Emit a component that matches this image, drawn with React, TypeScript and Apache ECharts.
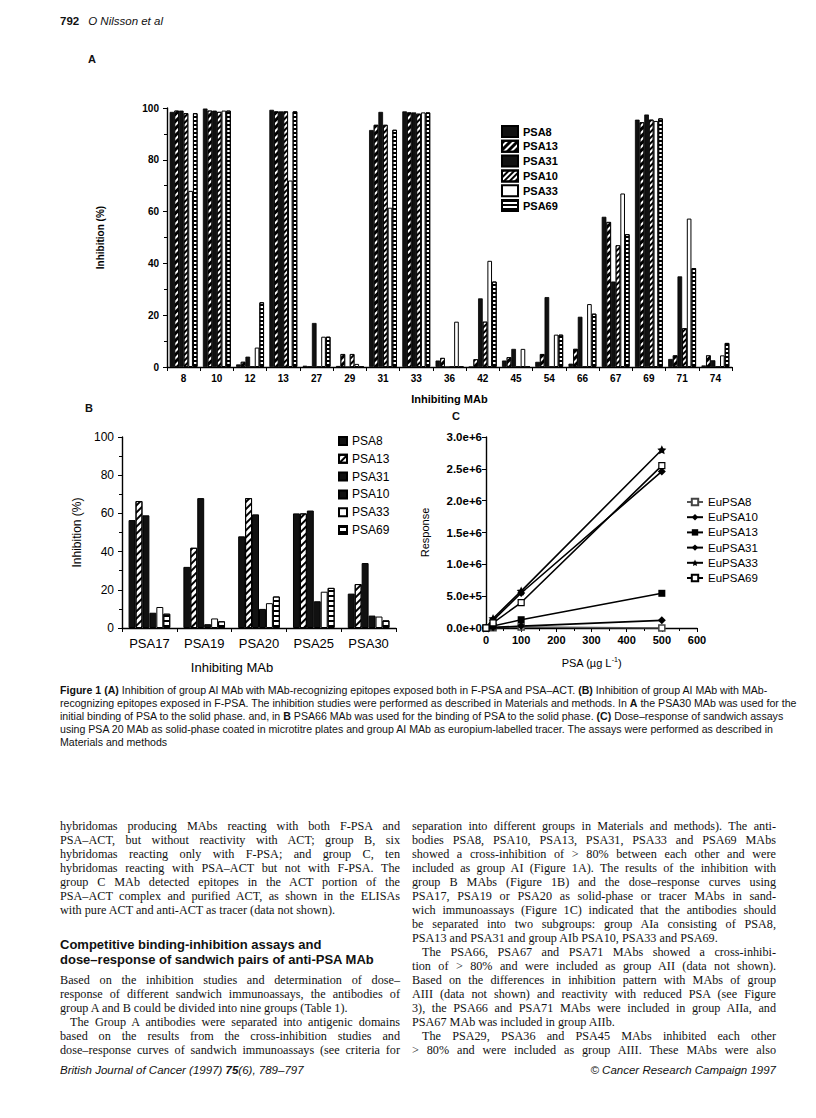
import React, { useEffect, useRef } from 'react';
import * as echarts from 'echarts';

// ---------- Panel A data ----------
const catsA = ['8', '10', '12', '13', '27', '29', '31', '33', '36', '42', '45', '54', '66', '67', '69', '71', '74'];
const namesA = ['PSA8', 'PSA13', 'PSA31', 'PSA10', 'PSA33', 'PSA69'];
const aPSA8 = [98.5, 99.8, 1, 99.3, 0.5, 0.4, 91.5, 98.7, 2.5, 0, 2.5, 2, 1.3, 58, 95.5, 3.1, 0.6];
const aPSA13 = [99, 99, 2, 98.7, 0, 5, 93.5, 98.3, 3.5, 3, 3.8, 5, 7, 56, 94.5, 4.5, 4.5];
const aPSA31 = [99, 99, 4, 98.7, 17, 0, 98.5, 98.3, 0, 26.5, 7, 27, 19.4, 33, 97.5, 35, 2.6];
const aPSA10 = [98, 98.5, 0, 98.7, 0, 5, 93.5, 97.8, 0, 17.5, 0, 0, 0, 47, 95.5, 15, 0];
const aPSA33 = [68, 99, 7.5, 72, 11.7, 1.2, 61.5, 98.3, 17.5, 41, 7, 12.5, 24.3, 67, 95, 57.3, 4.5];
const aPSA69 = [98, 99, 25, 98.7, 11.7, 0, 91.6, 98.3, 0, 33, 0, 12.5, 20.6, 51.3, 96, 38.2, 9.3];

// ---------- Panel B data ----------
const catsB = ['PSA17', 'PSA19', 'PSA20', 'PSA25', 'PSA30'];
const bPSA8 = [56.5, 32, 48, 60, 18];
const bPSA13 = [66.5, 42, 68, 60, 23];
const bPSA31 = [59, 68, 59.5, 61.5, 34];
const bPSA10 = [8, 2, 10, 14, 6.5];
const bPSA33 = [11, 5, 13, 19, 6];
const bPSA69 = [7.5, 3.5, 16.5, 21, 4];

// ---------- Panel C data ----------
const xC = [0, 20, 100, 500];
const cEuPSA8 = [0, 5000, 15000, 0];
const cEuPSA10 = [0, 120000, 550000, 2460000];
const cEuPSA13 = [0, 30000, 130000, 545000];
const cEuPSA31 = [0, 10000, 30000, 120000];
const cEuPSA33 = [0, 150000, 580000, 2800000];
const cEuPSA69 = [0, 80000, 400000, 2550000];

const yTicksA = [0, 20, 40, 60, 80, 100];

const SANS = '"Liberation Sans", Arial, Helvetica, sans-serif';
const SERIF = '"Liberation Serif", "Times New Roman", serif';

const diag = (w: number, g: number, rot: number) => ({
  symbol: 'rect', symbolSize: 1, color: '#000', backgroundColor: '#fff',
  dashArrayX: [1, 0], dashArrayY: [w, g], rotation: rot,
});

function barsA() {
  const vals = [aPSA8, aPSA13, aPSA31, aPSA10, aPSA33, aPSA69];
  const styles: any[] = [
    { color: '#111', borderColor: '#000', borderWidth: 0.8 },
    { color: '#fff', borderColor: '#000', borderWidth: 0.8, decal: diag(2.5, 1.5, -Math.PI / 4) },
    { color: '#111', borderColor: '#000', borderWidth: 0.8 },
    { color: '#fff', borderColor: '#000', borderWidth: 0.8, decal: diag(1.2, 1.2, -Math.PI / 4) },
    { color: '#fff', borderColor: '#000', borderWidth: 1 },
    { color: '#fff', borderColor: '#000', borderWidth: 1, decal: diag(1.5, 1.5, 0) },
  ];
  return namesA.map((n, i) => ({
    name: n, type: 'bar', data: vals[i], barGap: '0%', barCategoryGap: '16%',
    itemStyle: styles[i],
  }));
}

function barsB() {
  const vals = [bPSA8, bPSA13, bPSA31, bPSA10, bPSA33, bPSA69];
  const styles: any[] = [
    { color: '#111', borderColor: '#000', borderWidth: 1 },
    { color: '#fff', borderColor: '#000', borderWidth: 1, decal: diag(2, 3, -Math.PI / 4) },
    { color: '#111', borderColor: '#000', borderWidth: 1 },
    { color: '#111', borderColor: '#000', borderWidth: 1 },
    { color: '#fff', borderColor: '#000', borderWidth: 1 },
    { color: '#fff', borderColor: '#000', borderWidth: 1, decal: diag(2, 2.5, 0) },
  ];
  return namesA.map((n, i) => ({
    name: n, type: 'bar', data: vals[i], barGap: '0%', barCategoryGap: '24%',
    itemStyle: styles[i],
  }));
}

const STAR = 'path://M0,-10 L2.9,-4 L9.5,-3.1 L4.7,1.5 L5.9,8.1 L0,5 L-5.9,8.1 L-4.7,1.5 L-9.5,-3.1 L-2.9,-4 Z';

function linesC() {
  const defs: any[] = [
    ['EuPSA8', cEuPSA8, 'rect', 6, { color: '#fff', borderColor: '#444', borderWidth: 1.5 }, '#555'],
    ['EuPSA10', cEuPSA10, 'diamond', 8, { color: '#000' }, '#000'],
    ['EuPSA13', cEuPSA13, 'rect', 7, { color: '#000' }, '#000'],
    ['EuPSA31', cEuPSA31, 'diamond', 8, { color: '#000' }, '#000'],
    ['EuPSA33', cEuPSA33, STAR, 9, { color: '#000' }, '#000'],
    ['EuPSA69', cEuPSA69, 'rect', 6, { color: '#fff', borderColor: '#000', borderWidth: 1.2 }, '#000'],
  ];
  return defs.map(([n, v, sym, size, is, lc]) => ({
    name: n, type: 'line', data: xC.map((x, i) => [x, v[i]]),
    symbol: sym, symbolSize: size, showSymbol: true,
    itemStyle: is, lineStyle: { color: lc, width: 1.6 },
  }));
}

const axisBlack = { lineStyle: { color: '#000', width: 1.4 } };

export default function App() {
  const refA = useRef<HTMLDivElement>(null);
  const refB = useRef<HTMLDivElement>(null);
  const refC = useRef<HTMLDivElement>(null);

  useEffect(() => {
    document.body.style.margin = '0';
    const a = echarts.init(refA.current!, null, { renderer: 'svg' });
    const b = echarts.init(refB.current!, null, { renderer: 'svg' });
    const c = echarts.init(refC.current!, null, { renderer: 'svg' });

    a.setOption({
      animation: false,
      textStyle: { fontFamily: SANS },
      grid: { left: 167, right: 84, top: 68, bottom: 45 },
      legend: {
        orient: 'vertical', left: 496, top: 80, itemWidth: 16, itemHeight: 11, itemGap: 1.8,
        icon: 'rect', data: namesA,
        textStyle: { fontSize: 11, fontWeight: 'bold', color: '#000', fontFamily: SANS },
      },
      xAxis: {
        type: 'category', data: catsA,
        name: 'Inhibiting MAb', nameLocation: 'middle', nameGap: 26,
        nameTextStyle: { fontSize: 11, fontWeight: 'bold', color: '#000', fontFamily: SANS },
        axisLine: axisBlack,
        axisTick: { show: true, length: 4, lineStyle: { color: '#000' } },
        axisLabel: { color: '#000', fontSize: 10, fontWeight: 'bold', margin: 6, fontFamily: SANS },
      },
      yAxis: {
        type: 'value', min: yTicksA[0], max: yTicksA[yTicksA.length - 1], interval: 20,
        name: 'Inhibition (%)', nameLocation: 'middle', nameGap: 62,
        nameTextStyle: { fontSize: 10, fontWeight: 'bold', color: '#000', fontFamily: SANS },
        axisLine: { show: true, ...axisBlack },
        axisTick: { show: true, length: 4, lineStyle: { color: '#000' } },
        minorTick: { show: true, splitNumber: 2, length: 3, lineStyle: { color: '#000' } },
        splitLine: { show: false },
        axisLabel: { color: '#000', fontSize: 10, fontWeight: 'bold', margin: 8, fontFamily: SANS },
      },
      series: barsA(),
    });

    b.setOption({
      animation: false,
      textStyle: { fontFamily: SANS },
      grid: { left: 122, right: 24, top: 37, bottom: 57 },
      legend: {
        orient: 'vertical', left: 333, top: 30, itemWidth: 8, itemHeight: 8, itemGap: 5.8,
        icon: 'rect', data: namesA,
        textStyle: { fontSize: 12, color: '#000', fontFamily: SANS },
      },
      graphic: [
        { type: 'text', x: 232, y: 267, style: { text: 'Inhibiting MAb', fontSize: 13, fill: '#000', fontFamily: SANS, align: 'center', verticalAlign: 'middle' } },
      ],
      xAxis: {
        type: 'category', data: catsB,
        axisLine: axisBlack,
        axisTick: { show: true, length: 4, lineStyle: { color: '#000' } },
        axisLabel: { color: '#000', fontSize: 13, margin: 9, fontFamily: SANS },
      },
      yAxis: {
        type: 'value', min: 0, max: 100, interval: 20,
        name: 'Inhibition (%)', nameLocation: 'middle', nameGap: 37,
        nameTextStyle: { fontSize: 12, color: '#000', fontFamily: SANS },
        axisLine: { show: true, ...axisBlack },
        axisTick: { show: true, length: 4, lineStyle: { color: '#000' } },
        minorTick: { show: true, splitNumber: 2, length: 3, lineStyle: { color: '#000' } },
        splitLine: { show: false },
        axisLabel: { color: '#000', fontSize: 12, margin: 8, fontFamily: SANS },
      },
      series: barsB(),
    });

    c.setOption({
      animation: false,
      textStyle: { fontFamily: SANS },
      grid: { left: 86, right: 119, top: 37, bottom: 57 },
      legend: {
        orient: 'vertical', left: 281, top: 91, itemWidth: 16, itemHeight: 8, itemGap: 3.2,
        data: ['EuPSA8', 'EuPSA10', 'EuPSA13', 'EuPSA31', 'EuPSA33', 'EuPSA69'],
        textStyle: { fontSize: 11.5, color: '#000', fontFamily: SANS },
      },
      xAxis: {
        type: 'value', min: 0, max: 600, interval: 100,
        name: 'PSA (µg L{s|-1})', nameLocation: 'middle', nameGap: 28,
        nameTextStyle: { fontSize: 11, color: '#000', fontFamily: SANS, rich: { s: { fontSize: 7, verticalAlign: 'top', padding: [0, 0, 6, 0] } } },
        axisLine: axisBlack,
        axisTick: { show: true, length: 4, lineStyle: { color: '#000' } },
        minorTick: { show: true, splitNumber: 2, length: 3, lineStyle: { color: '#000' } },
        splitLine: { show: false },
        axisLabel: { color: '#000', fontSize: 11, fontWeight: 'bold', margin: 6, fontFamily: SANS },
      },
      yAxis: {
        type: 'value', min: 0, max: 3000000, interval: 500000,
        name: 'Response', nameLocation: 'middle', nameGap: 56,
        nameTextStyle: { fontSize: 11, color: '#000', fontFamily: SANS },
        axisLine: { show: true, ...axisBlack },
        axisTick: { show: true, length: 4, lineStyle: { color: '#000' } },
        splitLine: { show: false },
        axisLabel: {
          color: '#000', fontSize: 11.5, fontWeight: 'bold', margin: 4, fontFamily: SANS,
          formatter: (v: number) => v.toExponential(1),
        },
      },
      series: linesC(),
    });

    return () => { a.dispose(); b.dispose(); c.dispose(); };
  }, []);

  const abs = (l: number, t: number, extra: any = {}) => ({ position: 'absolute' as const, left: l, top: t, ...extra });

  const leftLines: [string, boolean, boolean][] = [
    ['hybridomas producing MAbs reacting with both F-PSA and', true, false],
    ['PSA–ACT, but without reactivity with ACT; group B, six', true, false],
    ['hybridomas reacting only with F-PSA; and group C, ten', true, false],
    ['hybridomas reacting with PSA–ACT but not with F-PSA. The', true, false],
    ['group C MAb detected epitopes in the ACT portion of the', true, false],
    ['PSA–ACT complex and purified ACT, as shown in the ELISAs', true, false],
    ['with pure ACT and anti-ACT as tracer (data not shown).', false, false],
  ];
  const leftLines2: [string, boolean, boolean][] = [
    ['Based on the inhibition studies and determination of dose–', true, false],
    ['response of different sandwich immunoassays, the antibodies of', true, false],
    ['group A and B could be divided into nine groups (Table 1).', false, false],
    ['The Group A antibodies were separated into antigenic domains', true, true],
    ['based on the results from the cross-inhibition studies and', true, false],
    ['dose–response curves of sandwich immunoassays (see criteria for', true, false],
  ];
  const rightLines: [string, boolean, boolean][] = [
    ['separation into different groups in Materials and methods). The anti-', true, false],
    ['bodies PSA8, PSA10, PSA13, PSA31, PSA33 and PSA69 MAbs', true, false],
    ['showed a cross-inhibition of > 80% between each other and were', true, false],
    ['included as group AI (Figure 1A). The results of the inhibition with', true, false],
    ['group B MAbs (Figure 1B) and the dose–response curves using', true, false],
    ['PSA17, PSA19 or PSA20 as solid-phase or tracer MAbs in sand-', true, false],
    ['wich immunoassays (Figure 1C) indicated that the antibodies should', true, false],
    ['be separated into two subgroups: group AIa consisting of PSA8,', true, false],
    ['PSA13 and PSA31 and group AIb PSA10, PSA33 and PSA69.', false, false],
    ['The PSA66, PSA67 and PSA71 MAbs showed a cross-inhibi-', true, true],
    ['tion of > 80% and were included as group AII (data not shown).', true, false],
    ['Based on the differences in inhibition pattern with MAbs of group', true, false],
    ['AIII (data not shown) and reactivity with reduced PSA (see Figure', true, false],
    ['3), the PSA66 and PSA71 MAbs were included in group AIIa, and', true, false],
    ['PSA67 MAb was included in group AIIb.', false, false],
    ['The PSA29, PSA36 and PSA45 MAbs inhibited each other', true, true],
    ['> 80% and were included as group AIII. These MAbs were also', true, false],
  ];

  const LH = 14;
  const renderLines = (lines: [string, boolean, boolean][]) =>
    lines.map(([t, j, ind], i) => (
      <div key={i} style={{
        textAlign: j ? 'justify' : 'left', textAlignLast: j ? 'justify' : 'left',
        textIndent: ind ? 10 : 0, height: LH, lineHeight: LH + 'px', whiteSpace: 'normal',
      }}>{t}</div>
    ));

  const capStyle = { fontFamily: SANS, fontSize: 10.6, lineHeight: '12.9px', color: '#111', whiteSpace: 'nowrap' as const };
  const bodyStyle = { fontFamily: SERIF, fontSize: 12.2, color: '#111' };

  return (
    <div style={{ position: 'absolute', left: 0, top: 0, width: 816, height: 1118, background: '#fff', color: '#111', overflow: 'hidden' }}>
      <div style={abs(60, 15, { fontFamily: SANS, fontSize: 11.5, whiteSpace: 'nowrap' })}>
        <b>792</b><span style={{ marginLeft: 9, fontStyle: 'italic' }}>O Nilsson et al</span>
      </div>
      <div style={abs(88, 53, { fontFamily: SANS, fontSize: 11, fontWeight: 'bold' })}>A</div>
      <div style={abs(85, 402, { fontFamily: SANS, fontSize: 11, fontWeight: 'bold' })}>B</div>
      <div style={abs(452, 410, { fontFamily: SANS, fontSize: 11, fontWeight: 'bold' })}>C</div>

      <div ref={refA} style={abs(0, 40, { width: 816, height: 372 })} />
      <div ref={refB} style={abs(0, 400, { width: 420, height: 285 })} />
      <div ref={refC} style={abs(400, 400, { width: 416, height: 285 })} />

      <div style={abs(60, 684, capStyle)}>
        <b>Figure 1 (A)</b> Inhibition of group AI MAb with MAb-recognizing epitopes exposed both in F-PSA and PSA–ACT. <b>(B)</b> Inhibition of group AI MAb with MAb-<br />
        recognizing epitopes exposed in F-PSA. The inhibition studies were performed as described in Materials and methods. In <b>A</b> the PSA30 MAb was used for the<br />
        initial binding of PSA to the solid phase. and, in <b>B</b> PSA66 MAb was used for the binding of PSA to the solid phase. <b>(C)</b> Dose–response of sandwich assays<br />
        using PSA 20 MAb as solid-phase coated in microtitre plates and group AI MAb as europium-labelled tracer. The assays were performed as described in<br />
        Materials and methods
      </div>

      <div style={abs(60, 819, { width: 340, ...bodyStyle })}>
        {renderLines(leftLines)}
      </div>
      <div style={abs(60, 937, { fontFamily: SANS, fontWeight: 'bold', fontSize: 13, lineHeight: '15px', color: '#111', whiteSpace: 'nowrap' })}>
        Competitive binding-inhibition assays and<br />dose–response of sandwich pairs of anti-PSA MAb
      </div>
      <div style={abs(60, 973, { width: 340, ...bodyStyle })}>
        {renderLines(leftLines2)}
      </div>

      <div style={abs(412, 819, { width: 364, ...bodyStyle })}>
        {renderLines(rightLines)}
      </div>

      <div style={abs(60, 1064, { fontFamily: SANS, fontSize: 11.5, fontStyle: 'italic', whiteSpace: 'nowrap' })}>
        British Journal of Cancer (1997) <b>75</b>(6), 789–797
      </div>
      <div style={abs(576, 1064, { width: 200, textAlign: 'right', fontFamily: SANS, fontSize: 11.5, fontStyle: 'italic', whiteSpace: 'nowrap' })}>
        © Cancer Research Campaign 1997
      </div>
    </div>
  );
}
